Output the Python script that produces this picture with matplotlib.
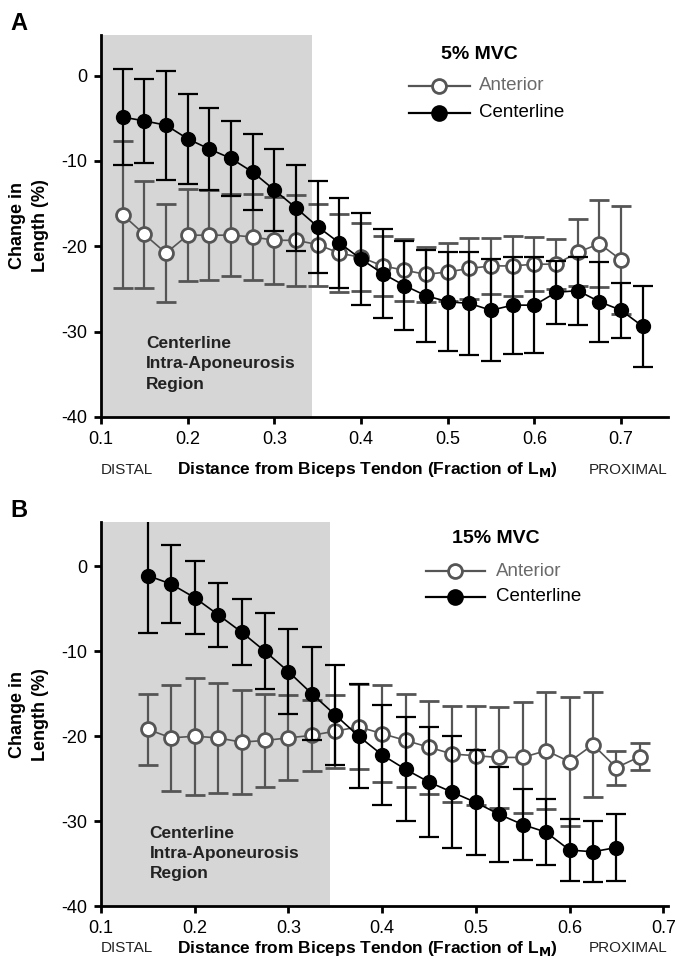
import matplotlib
matplotlib.use('Agg')
import matplotlib.pyplot as plt
from matplotlib.lines import Line2D

plt.rcParams['font.family'] = ['Liberation Sans', 'DejaVu Sans']

# Panel A, 5% MVC
xa_cent = [0.125, 0.15, 0.175, 0.2, 0.225, 0.25, 0.275, 0.3, 0.325, 0.35, 0.375, 0.4, 0.425,
           0.45, 0.475, 0.5, 0.525, 0.55, 0.575, 0.6, 0.625, 0.65, 0.675, 0.7, 0.725]
ya_cent = [-4.85, -5.3, -5.8, -7.4, -8.6, -9.7, -11.3, -13.4, -15.5, -17.7, -19.6, -21.5, -23.2,
           -24.6, -25.8, -26.5, -26.7, -27.5, -26.9, -26.9, -25.4, -25.2, -26.5, -27.5, -29.4]
ea_cent = [5.6, 4.9, 6.4, 5.3, 4.8, 4.4, 4.5, 4.8, 5.0, 5.4, 5.3, 5.4, 5.2,
           5.2, 5.4, 5.8, 6.0, 6.0, 5.7, 5.6, 3.7, 4.0, 4.7, 3.2, 4.7]
xa_ant = [0.125, 0.15, 0.175, 0.2, 0.225, 0.25, 0.275, 0.3, 0.325, 0.35, 0.375, 0.4,
          0.425, 0.45, 0.475, 0.5, 0.525, 0.55, 0.575, 0.6, 0.625, 0.65, 0.675, 0.7]
ya_ant = [-16.3, -18.6, -20.8, -18.7, -18.7, -18.7, -18.9, -19.3, -19.3, -19.8, -20.8, -21.3,
          -22.3, -22.8, -23.3, -23.0, -22.6, -22.3, -22.3, -22.1, -22.1, -20.7, -19.7, -21.6]
ea_ant = [8.6, 6.3, 5.7, 5.4, 5.3, 4.8, 5.0, 5.1, 5.3, 4.8, 4.6, 4.0,
          3.5, 3.6, 3.2, 3.4, 3.6, 3.3, 3.5, 3.2, 2.9, 3.9, 5.1, 6.3]

# Panel B, 15% MVC
xb_cent = [0.15, 0.175, 0.2, 0.225, 0.25, 0.275, 0.3, 0.325, 0.35, 0.375, 0.4,
           0.425, 0.45, 0.475, 0.5, 0.525, 0.55, 0.575, 0.6, 0.625, 0.65]
yb_cent = [-1.1, -2.1, -3.7, -5.7, -7.75, -10.0, -12.4, -15.0, -17.5, -20.0, -22.2,
           -23.9, -25.4, -26.6, -27.8, -29.2, -30.4, -31.3, -33.4, -33.6, -33.1]
eb_cent = [6.8, 4.6, 4.3, 3.75, 3.9, 4.5, 5.0, 5.5, 5.9, 6.1, 5.9,
           6.1, 6.5, 6.6, 6.2, 5.6, 4.2, 3.9, 3.7, 3.6, 3.9]
xb_ant = [0.15, 0.175, 0.2, 0.225, 0.25, 0.275, 0.3, 0.325, 0.35, 0.375, 0.4,
          0.425, 0.45, 0.475, 0.5, 0.525, 0.55, 0.575, 0.6, 0.625, 0.65, 0.675]
yb_ant = [-19.2, -20.2, -20.0, -20.2, -20.7, -20.5, -20.2, -19.9, -19.4, -18.9, -19.7,
          -20.5, -21.3, -22.1, -22.3, -22.5, -22.5, -21.7, -23.0, -21.0, -23.7, -22.4]
eb_ant = [4.2, 6.2, 6.9, 6.5, 6.1, 5.5, 5.0, 4.2, 4.3, 5.0, 5.7,
          5.5, 5.5, 5.7, 5.8, 5.9, 6.5, 6.9, 7.6, 6.2, 2.0, 1.6]

region_end = 0.344
yticks = [0, -10, -20, -30, -40]
xticks = [0.1, 0.2, 0.3, 0.4, 0.5, 0.6, 0.7]
ant_col = '#555555'

fig = plt.figure(figsize=(6.79, 9.65), dpi=100)
ax_a = fig.add_axes([0.1487, 0.568, 0.835, 0.396])
ax_b = fig.add_axes([0.1487, 0.061, 0.835, 0.398])


def draw_legend(ax, title, title_xy, h_x0, h_x1, txt_x, y_ant, y_cent):
    ax.text(title_xy[0], title_xy[1], title, transform=ax.transAxes, fontsize=14,
            fontweight='bold', ha='center', va='center')
    hm = (h_x0 + h_x1) / 2
    for y, fc, ec, lab, tc in [(y_ant, 'white', ant_col, 'Anterior', '#6a6a6a'),
                               (y_cent, 'black', 'black', 'Centerline', 'black')]:
        ax.add_line(Line2D([h_x0, h_x1], [y, y], transform=ax.transAxes, color=ec, lw=1.6))
        ax.add_line(Line2D([hm], [y], transform=ax.transAxes, marker='o', ms=10, mfc=fc,
                           mec=ec, mew=2, ls='none'))
        ax.text(txt_x, y, lab, transform=ax.transAxes, fontsize=13.5, color=tc,
                ha='left', va='center')


def draw_panel(ax, xc, yc, ec, xa, ya, ea, xmax, ymax, letter, xlab_y):
    ax.axvspan(0.1, region_end, ymin=0, ymax=1, color='#d6d6d6', lw=0, zorder=0)
    ax.errorbar(xa, ya, yerr=ea, fmt='-o', color=ant_col, ecolor=ant_col, elinewidth=1.6,
                capsize=7, capthick=1.6, lw=1.2, ms=10, mfc='white', mec=ant_col, mew=2,
                zorder=2)
    ax.errorbar(xc, yc, yerr=ec, fmt='-o', color='black', ecolor='black', elinewidth=1.6,
                capsize=7, capthick=1.6, lw=1.2, ms=10, mfc='black', mec='black',
                zorder=3)
    ax.set_xlim(0.1, xmax)
    ax.set_ylim(-40, ymax)
    ax.set_xticks(xticks)
    ax.set_xticklabels([f'{t:.1f}' for t in xticks])
    ax.set_yticks(yticks)
    ax.set_yticklabels([str(t) for t in yticks])
    for s in ['top', 'right']:
        ax.spines[s].set_visible(False)
    for s in ['left', 'bottom']:
        ax.spines[s].set_linewidth(2)
    ax.tick_params(direction='out', length=5, width=2, labelsize=13, pad=5)
    ax.text(0.152, -33.8, 'Centerline\nIntra-Aponeurosis\nRegion', fontsize=12.5,
            fontweight='bold', va='center', ha='left', linespacing=1.45, color='#222222')
    ax.set_ylabel('Change in\nLength (%)', fontsize=13, fontweight='bold', labelpad=9,
                  linespacing=1.45)
    ax.text(-0.16, 1.0, letter, transform=ax.transAxes, fontsize=17, fontweight='bold',
            va='bottom', ha='left')
    ax.text(0.0, xlab_y, 'DISTAL', transform=ax.transAxes, fontsize=11, ha='left',
            va='center', color='#222222')
    ax.text(1.0, xlab_y, 'PROXIMAL', transform=ax.transAxes, fontsize=11, ha='right',
            va='center', color='#222222')
    ax.text(0.47, xlab_y, r'Distance from Biceps Tendon (Fraction of L$_\mathbf{M}$)',
            transform=ax.transAxes, fontsize=12.5, fontweight='bold', ha='center', va='center')


draw_panel(ax_a, xa_cent, ya_cent, ea_cent, xa_ant, ya_ant, ea_ant, 0.754, 4.8, 'A', -0.138)
draw_legend(ax_a, '5% MVC', (0.667, 0.948), 0.543, 0.651, 0.667, 0.866, 0.796)
draw_panel(ax_b, xb_cent, yb_cent, eb_cent, xb_ant, yb_ant, eb_ant, 0.705, 5.2, 'B', -0.11)
draw_legend(ax_b, '15% MVC', (0.697, 0.956), 0.573, 0.677, 0.697, 0.872, 0.805)

fig.savefig('out.png', dpi=100)
